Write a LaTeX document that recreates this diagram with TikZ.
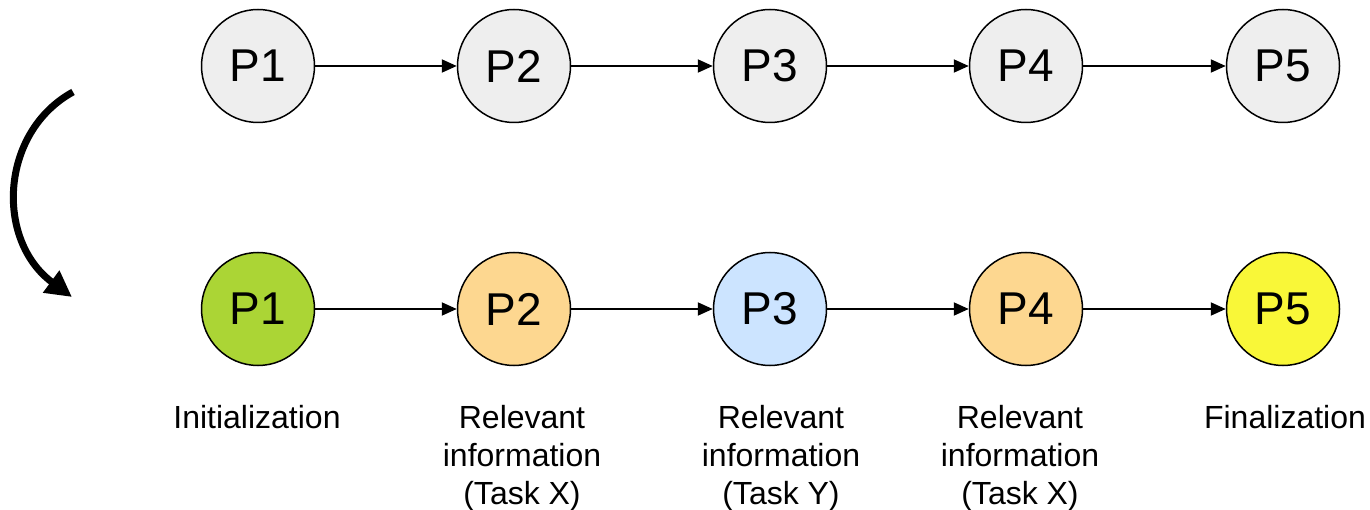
\documentclass[tikz,border=0pt]{standalone}
\usepackage{fontspec}
\setmainfont{Liberation Sans}
\usetikzlibrary{arrows.meta}
\definecolor{pgrey}{HTML}{EEEEEE}
\definecolor{pgreen}{HTML}{ABD535}
\definecolor{porange}{HTML}{FDD790}
\definecolor{pblue}{HTML}{CCE4FF}
\definecolor{pyellow}{HTML}{F9F738}
\begin{document}
\begin{tikzpicture}[x=1pt,y=-1pt,
  proc/.style={circle,draw=black,line width=1.5pt,minimum size=113pt,inner sep=0pt,
    font=\fontsize{46}{50}\selectfont},
  flow/.style={-{Triangle[length=15pt,width=13pt]},line width=2pt},
  caption/.style={align=center,anchor=base,font=\fontsize{32}{38}\selectfont}]
\useasboundingbox (0,0) rectangle (1370,510);
% upper row: plain sequence
\foreach \i/\x in {1/258,2/514,3/770,4/1026,5/1283}{
  \node[proc,fill=pgrey] (u\i) at (\x,66) {P\i};
}
% lower row: coloured by role
\node[proc,fill=pgreen]  (l1) at (258,309) {P1};
\node[proc,fill=porange] (l2) at (514,309) {P2};
\node[proc,fill=pblue]   (l3) at (770,309) {P3};
\node[proc,fill=porange] (l4) at (1026,309) {P4};
\node[proc,fill=pyellow] (l5) at (1283,309) {P5};
\foreach \a/\b in {1/2,2/3,3/4,4/5}{
  \draw[flow] (u\a) -- (u\b);
  \draw[flow] (l\a) -- (l\b);
}
% captions (base anchor sits on the last line)
\node[caption] (c1) at (257,428) {Initialization};
\node[caption] (c2) at (522,504) {Relevant\\information\\(Task X)};
\node[caption] (c3) at (781,504) {Relevant\\information\\(Task Y)};
\node[caption] (c4) at (1020,504) {Relevant\\information\\(Task X)};
\node[caption] (c5) at (1285,428) {Finalization};
% transition arrow between the two rows
\coordinate (tA) at (73,92);
\coordinate (tB) at (72,297);
\draw[line width=7pt,-{Triangle[length=26pt,width=26pt]}]
  (tA) .. controls (0,132) and (-5,240) .. (tB);
\end{tikzpicture}
\end{document}
